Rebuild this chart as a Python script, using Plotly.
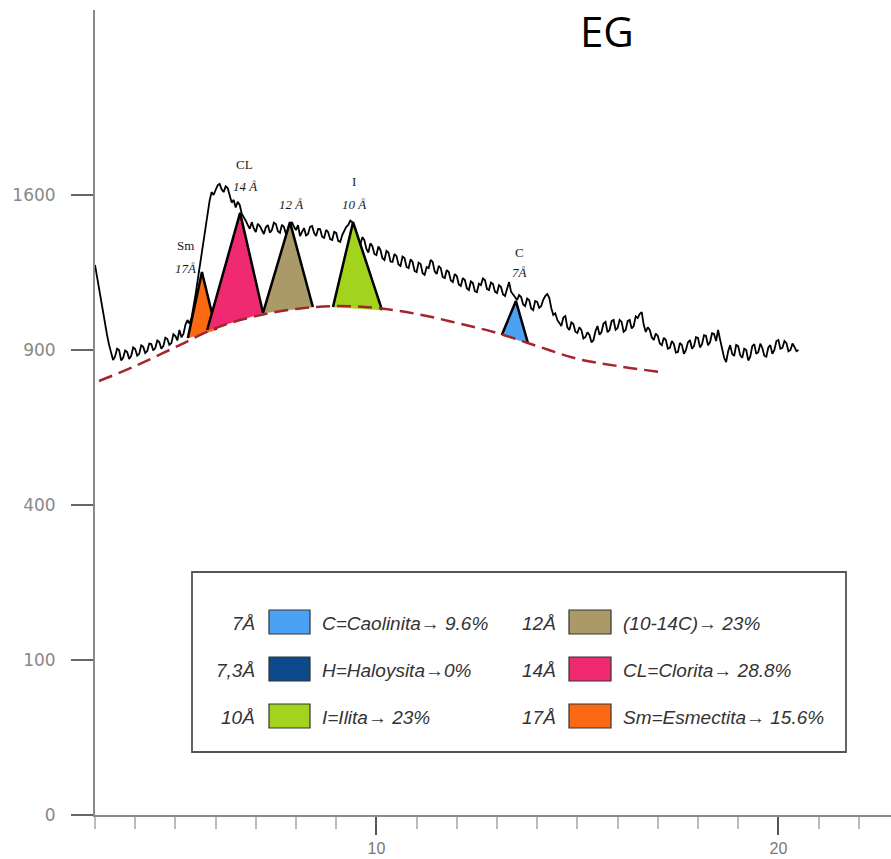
import numpy as np
import plotly.graph_objects as go

# ---------------- data ----------------
# XRD trace (counts) sampled every 0.05 deg 2-theta starting at 3.0
TRACE_COUNTS = [
    1259, 1205, 1147, 1095, 1041, 998, 959, 920, 892, 862, 875, 905, 900, 860, 870, 898, 892, 866, 877, 910,
    904, 878, 885, 918, 912, 888, 896, 925, 923, 898, 908, 937, 931, 905, 915, 948, 943, 920, 927, 962,
    955, 938, 979, 950, 963, 1000, 1020, 1005, 1028, 1070, 1126, 1185, 1246, 1310, 1376, 1445, 1510, 1570, 1615, 1600,
    1626, 1650, 1658, 1630, 1615, 1645, 1636, 1590, 1561, 1575, 1536, 1565, 1549, 1505, 1483, 1470, 1449, 1430, 1463, 1432,
    1414, 1455, 1444, 1420, 1405, 1438, 1449, 1412, 1424, 1460, 1454, 1418, 1410, 1450, 1439, 1405, 1419, 1445, 1463, 1440,
    1424, 1448, 1395, 1415, 1434, 1398, 1405, 1440, 1444, 1410, 1395, 1430, 1429, 1392, 1386, 1425, 1414, 1380, 1376, 1415,
    1410, 1372, 1367, 1400, 1424, 1440, 1449, 1470, 1463, 1430, 1400, 1375, 1352, 1390, 1376, 1335, 1317, 1360, 1347, 1310,
    1305, 1345, 1329, 1290, 1282, 1325, 1317, 1275, 1273, 1310, 1300, 1262, 1255, 1298, 1291, 1250, 1245, 1285, 1273, 1232,
    1227, 1270, 1264, 1222, 1214, 1250, 1245, 1282, 1273, 1230, 1218, 1255, 1245, 1205, 1200, 1236, 1227, 1190, 1182, 1218,
    1209, 1172, 1165, 1200, 1191, 1155, 1147, 1185, 1178, 1142, 1138, 1175, 1169, 1198, 1191, 1152, 1147, 1180, 1173, 1140,
    1134, 1168, 1160, 1128, 1121, 1150, 1182, 1140, 1126, 1112, 1104, 1125, 1117, 1085, 1078, 1110, 1104, 1068, 1061, 1100,
    1096, 1070, 1078, 1105, 1121, 1130, 1113, 1070, 1041, 1048, 1020, 1008, 995, 1030, 1036, 990, 979, 1010, 1003, 972,
    967, 990, 979, 945, 951, 970, 959, 930, 939, 975, 995, 960, 971, 1005, 1012, 970, 979, 1015, 1020, 980,
    987, 1020, 1012, 972, 979, 1015, 1020, 985, 995, 1035, 1028, 1045, 1053, 1000, 971, 990, 979, 950, 939, 965,
    955, 925, 919, 948, 939, 905, 908, 935, 923, 890, 892, 928, 919, 885, 900, 930, 939, 905, 915, 950,
    947, 910, 923, 958, 955, 918, 931, 966, 963, 935, 979, 940, 900, 870, 854, 895, 919, 885, 877, 920,
    915, 880, 870, 905, 900, 860, 874, 915, 923, 885, 892, 925, 908, 878, 874, 910, 919, 885, 900, 935,
    939, 905, 908, 935, 927, 895, 900, 925, 912, 895, 900,
]
TRACE_X = [round(3.0 + 0.05 * i, 2) for i in range(len(TRACE_COUNTS))]

# background (dashed) curve
BASE_X = [3.1, 4, 5, 6, 7, 8, 9, 10, 11, 12, 13, 14, 15, 16, 17.05]
BASE_Y = [784, 839, 911, 987, 1036, 1066, 1078, 1070, 1045, 1008, 967, 915, 866, 839, 817]

# peak triangles (base-left, apex, base-right)
PEAK_NAMES = ["Sm", "CL", "12A", "I", "C"]
PEAK_X = [[5.31, 5.66, 6.01], [5.79, 6.61, 7.18], [7.18, 7.85, 8.42],
          [8.92, 9.42, 10.14], [13.12, 13.47, 13.77]]
PEAK_Y = [[947, 1227, 979], [979, 1509, 1049], [1049, 1463, 1074],
          [1074, 1463, 1061], [959, 1100, 927]]
PEAK_COLORS = ["#fb6a12", "#f02a70", "#a99a68", "#a2d41e", "#4ba2f5"]

# peak labels
PL_TEXT = ["Sm", "<i>17Å</i>", "CL", "<i>14 Å</i>", "<i>12 Å</i>", "I", "<i>10 Å</i>", "C", "<i>7Å</i>"]
PL_X = [5.24, 5.24, 6.73, 6.73, 7.88, 9.44, 9.44, 13.55, 13.55]
PL_Y = [1352, 1245, 1759, 1642, 1549, 1668, 1549, 1315, 1223]

# y ticks (square-root scale)
Y_TICKS = [0, 100, 400, 900, 1600]
X_TICKS = [10, 20]

# legend content
LEG_D = ["7Å", "7,3Å", "10Å", "12Å", "14Å", "17Å"]
LEG_TEXT = ["C=Caolinita→ 9.6%", "H=Haloysita→0%", "I=Ilita→ 23%",
            "(10-14C)→ 23%", "CL=Clorita→ 28.8%", "Sm=Esmectita→ 15.6%"]
LEG_COL = ["#4ba2f5", "#0d4a8c", "#a2d41e", "#a99a68", "#f02a70", "#fb6a12"]

# ---------------- figure ----------------
W, H = 891, 859
ML, MT, MB, MR = 95, 10, 44, 0
PW, PH = W - ML - MR, H - MT - MB


def fx(px):
    return (px - ML) / PW


def fy(py):
    return (H - MB - py) / PH


fig = go.Figure()

# trace
fig.add_trace(go.Scatter(
    x=TRACE_X, y=np.sqrt(TRACE_COUNTS), mode="lines",
    line=dict(color="black", width=1.8), hoverinfo="skip"))

# triangle fills + sloped black sides
for name, xs, ys, col in zip(PEAK_NAMES, PEAK_X, PEAK_Y, PEAK_COLORS):
    sy = list(np.sqrt(ys))
    fig.add_trace(go.Scatter(
        x=xs + [xs[0]], y=sy + [sy[0]], mode="lines", fill="toself",
        fillcolor=col, name=name, line=dict(color=col, width=0.5), hoverinfo="skip"))
    fig.add_trace(go.Scatter(
        x=xs, y=sy, mode="lines", line=dict(color="black", width=2.5),
        hoverinfo="skip"))

# dashed background curve
fig.add_trace(go.Scatter(
    x=BASE_X, y=np.sqrt(BASE_Y), mode="lines", line_shape="spline",
    line=dict(color="#a3262c", width=2.5, dash="14px,7px"), hoverinfo="skip"))

annotations = []
for t, x, y in zip(PL_TEXT, PL_X, PL_Y):
    annotations.append(dict(
        x=x, y=float(np.sqrt(y)), xref="x", yref="y", text=t,
        xanchor="center", yanchor="middle",
        showarrow=False, font=dict(family="Liberation Serif", size=13, color="#1a1a1a")))

annotations.append(dict(
    x=fx(607), y=fy(30), xref="paper", yref="paper", text="EG", showarrow=False,
    xanchor="center", yanchor="middle",
    font=dict(family="Open Sans", size=42, color="black")))

shapes = [dict(type="rect", xref="paper", yref="paper",
               x0=fx(192), x1=fx(846), y0=fy(752), y1=fy(572),
               line=dict(color="#555", width=1.8), fillcolor="white", layer="below")]

rows = [622, 669, 716]
cols = [(257, 269, 310, 320), (558, 569, 611, 621)]
for i, (d, t, c) in enumerate(zip(LEG_D, LEG_TEXT, LEG_COL)):
    col = cols[i // 3]
    ry = rows[i % 3]
    shapes.append(dict(type="rect", xref="paper", yref="paper",
                       x0=fx(col[1]), x1=fx(col[2]), y0=fy(ry + 12), y1=fy(ry - 12),
                       line=dict(color="#333", width=1.2), fillcolor=c))
    annotations.append(dict(x=fx(col[0]), y=fy(ry + 1), xref="paper", yref="paper",
                            text=f"<i>{d}</i>", showarrow=False,
                            xanchor="right", yanchor="middle",
                            font=dict(family="Liberation Sans", size=19, color="#333")))
    annotations.append(dict(x=fx(col[3]), y=fy(ry + 1), xref="paper", yref="paper",
                            text=f"<i>{t}</i>", showarrow=False,
                            xanchor="left", yanchor="middle",
                            font=dict(family="Liberation Sans", size=19, color="#333")))

fig.update_layout(
    width=W, height=H, margin=dict(l=ML, r=MR, t=MT, b=MB),
    paper_bgcolor="white", plot_bgcolor="white", showlegend=False,
    annotations=annotations, shapes=shapes,
    xaxis=dict(range=[3, 3 + PW / 40.2], showgrid=False, zeroline=False,
               showline=True, linecolor="#8a8a8a", linewidth=2,
               tickvals=X_TICKS, ticktext=[str(v) for v in X_TICKS],
               ticks="outside", ticklen=18, tickwidth=2, tickcolor="#555",
               tickfont=dict(family="Liberation Sans", size=16, color="#777"),
               minor=dict(dtick=1, tick0=0, ticks="outside", ticklen=12,
                          tickwidth=1.5, tickcolor="#bbb")),
    yaxis=dict(range=[0, PH / 15.5], showgrid=False, zeroline=False,
               showline=True, linecolor="#8a8a8a", linewidth=2,
               tickvals=[float(np.sqrt(v)) for v in Y_TICKS],
               ticktext=[str(v) for v in Y_TICKS],
               ticks="outside", ticklen=22, tickwidth=2, tickcolor="#666",
               ticklabelstandoff=12,
               tickfont=dict(family="DejaVu Sans", size=17, color="#888")),
)

fig.write_html("out.html")
